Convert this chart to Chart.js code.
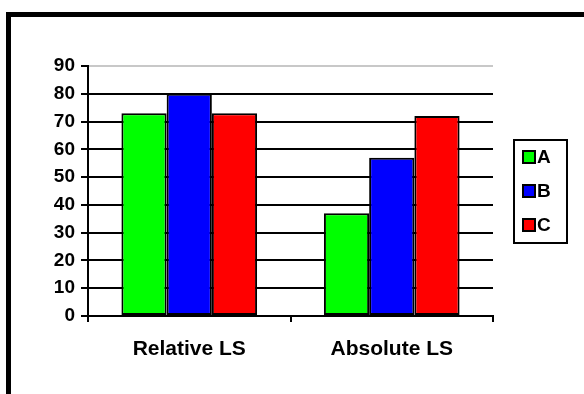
<!DOCTYPE html>
<html>
<head>
<meta charset="utf-8">
<script src="https://cdn.jsdelivr.net/npm/chart.js@4/dist/chart.umd.min.js"></script>
<style>
  html, body { margin: 0; padding: 0; background: #fff; }
  #wrap { position: relative; width: 584px; height: 394px; }
</style>
</head>
<body>
<div id="wrap"><canvas id="c" width="584" height="394"></canvas></div>
<script>
// Categories, series and axis ticks
const categories = ['Relative LS', 'Absolute LS'];
const seriesNames = ['A', 'B', 'C'];
const seriesA = [73, 37];
const seriesB = [80, 57];
const seriesC = [73, 72];
const yTicks = [0, 10, 20, 30, 40, 50, 60, 70, 80, 90];

const colors = ['#00ff00', '#0000ff', '#ff0000'];
const FONT = "'Liberation Sans', Arial, sans-serif";

// Thick frame along the top and left edges
const framePlugin = {
  id: 'frame',
  beforeDraw(chart) {
    const ctx = chart.ctx;
    ctx.save();
    ctx.fillStyle = '#fff';
    ctx.fillRect(0, 0, chart.width, chart.height);
    ctx.fillStyle = '#000';
    ctx.fillRect(6, 12, chart.width - 6, 5);
    ctx.fillRect(6, 12, 5, chart.height - 12);
    ctx.restore();
  }
};

// Boxed legend on the right
const boxLegendPlugin = {
  id: 'boxLegend',
  afterDraw(chart) {
    const ctx = chart.ctx;
    const x0 = 514, y0 = 140, w = 53, h = 103;
    ctx.save();
    ctx.lineWidth = 2;
    ctx.strokeStyle = '#000';
    ctx.strokeRect(x0, y0, w, h);
    ctx.font = 'bold 19px ' + FONT;
    ctx.textBaseline = 'middle';
    ctx.textAlign = 'left';
    chart.data.datasets.forEach((ds, i) => {
      const cy = 157 + i * 34;
      ctx.fillStyle = ds.backgroundColor;
      ctx.fillRect(523, cy - 6, 12, 12);
      ctx.strokeRect(523, cy - 6, 12, 12);
      ctx.fillStyle = '#000';
      ctx.fillText(ds.label, 537, cy + 1);
    });
    ctx.restore();
  }
};

const seriesValues = [seriesA, seriesB, seriesC];

new Chart(document.getElementById('c'), {
  type: 'bar',
  data: {
    labels: categories,
    datasets: seriesNames.map((name, i) => ({
      label: name,
      data: seriesValues[i],
      backgroundColor: colors[i],
      borderColor: '#000',
      borderWidth: 2,
      borderSkipped: false,
      categoryPercentage: 0.67,
      barPercentage: 1.0
    }))
  },
  options: {
    responsive: false,
    animation: false,
    devicePixelRatio: 1,
    layout: { padding: { top: 66, right: 91, left: 0, bottom: 0 } },
    plugins: {
      legend: { display: false },
      tooltip: { enabled: false }
    },
    scales: {
      x: {
        afterFit(s) { s.height = 78; },
        grid: {
          offset: true,
          drawOnChartArea: false,
          drawTicks: true,
          tickLength: 6,
          color: '#000',
          lineWidth: 2
        },
        border: { display: true, color: '#000', width: 2 },
        ticks: {
          color: '#000',
          padding: 15,
          font: { family: FONT, size: 21, weight: 'bold' }
        }
      },
      y: {
        min: 0,
        max: 90,
        afterFit(s) { s.width = 88; },
        afterBuildTicks(s) { s.ticks = yTicks.map(v => ({ value: v })); },
        grid: {
          color: (c) => (c.tick && c.tick.value === 90) ? '#c8c8c8' : '#000',
          tickColor: '#000',
          lineWidth: 2,
          tickLength: 7
        },
        border: { display: true, color: '#000', width: 2 },
        ticks: {
          color: '#000',
          padding: 6,
          font: { family: FONT, size: 19, weight: 'bold' }
        }
      }
    }
  },
  plugins: [framePlugin, boxLegendPlugin]
});
</script>
</body>
</html>
